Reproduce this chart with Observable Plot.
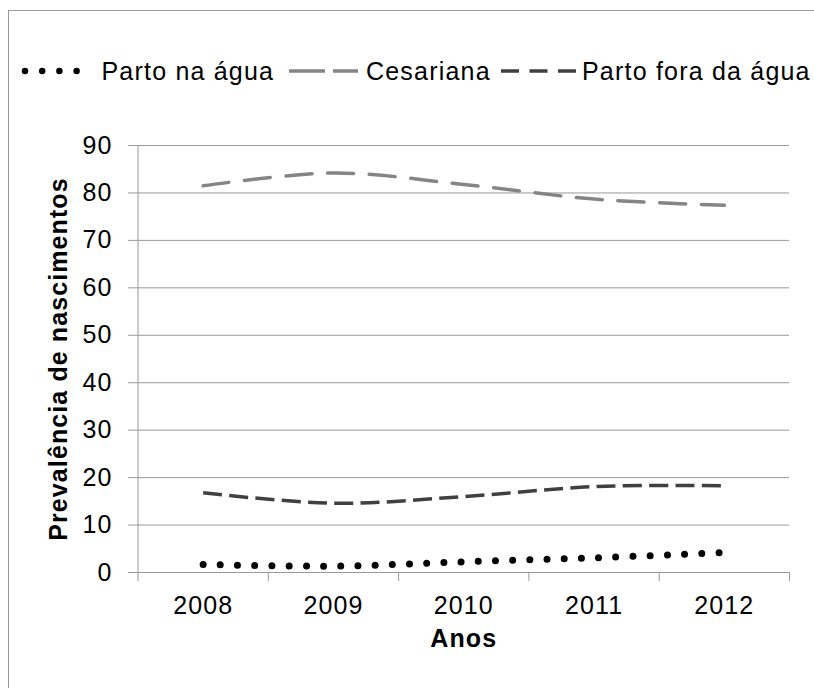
<!DOCTYPE html>
<html>
<head>
<meta charset="utf-8">
<script src="https://cdn.jsdelivr.net/npm/d3@7"></script>
<script src="https://cdn.jsdelivr.net/npm/@observablehq/plot@0.6"></script>
<style>
  html, body { margin: 0; padding: 0; background: #fff; width: 814px; height: 688px; overflow: hidden; }
  #wrap { position: relative; width: 814px; height: 688px; }
  #frame { position: absolute; left: 8px; top: 10px; width: 900px; height: 800px;
           border-left: 1.5px solid #999; border-top: 1.5px solid #999; box-sizing: border-box; }
  #legend { position: absolute; left: 0; top: 0; }
  #chart { position: absolute; left: 0; top: 100px; }
</style>
</head>
<body>
<div id="wrap">
  <div id="frame"></div>
  <div id="legend"></div>
  <div id="chart"></div>
</div>
<script>
// ---- data ----
const years = [2008, 2009, 2010, 2011, 2012];
const partoNaAgua = [1.7, 1.35, 2.25, 3.1, 4.2];
const cesariana = [81.5, 84.2, 81.8, 78.7, 77.4];
const partoForaDaAgua = [16.8, 14.6, 16.0, 18.1, 18.3];
const seriesNames = ["Parto na água", "Cesariana", "Parto fora da água"];
const yTicks = [0, 10, 20, 30, 40, 50, 60, 70, 80, 90];
const xTitle = "Anos";
const yTitle = "Prevalência de nascimentos";

// ---- styles ----
const FONT = "'Liberation Sans', Arial, Helvetica, sans-serif";
const seriesStyle = [
  {stroke: "#000000", strokeWidth: 7, strokeDasharray: "0 17.2", strokeLinecap: "round",
   legendDash: "0 17.2", legendCap: "round", legendWidth: 6.5},
  {stroke: "#858585", strokeWidth: 3.5, strokeDasharray: "26 15.7", strokeLinecap: "round",
   legendDash: "36 8", legendCap: "butt", legendWidth: 3.5},
  {stroke: "#404040", strokeWidth: 3.5, strokeDasharray: "19 7.3", strokeLinecap: "butt",
   legendDash: "18 10.5", legendCap: "butt", legendWidth: 3.5}
];
const seriesValues = [partoNaAgua, cesariana, partoForaDaAgua];

const table = seriesNames.map((name, i) =>
  years.map((year, j) => ({series: name, year, value: seriesValues[i][j]})));

// band boundaries for category tick marks
const bounds = [years[0] - 0.5, ...years.map(y => y + 0.5)];

const lineMarks = table.map((rows, i) => Plot.line(rows, {
  x: "year", y: "value", curve: "catmull-rom",
  stroke: seriesStyle[i].stroke, strokeWidth: seriesStyle[i].strokeWidth,
  strokeDasharray: seriesStyle[i].strokeDasharray, strokeLinecap: seriesStyle[i].strokeLinecap
}));

const chart = Plot.plot({
  width: 814, height: 588,
  marginTop: 45, marginBottom: 116, marginLeft: 137.5, marginRight: 25,
  x: {type: "linear", domain: [bounds[0], bounds[bounds.length - 1]]},
  y: {domain: [0, 90]},
  style: {fontFamily: FONT, fontSize: "25px", letterSpacing: "1.1px", color: "#000", background: "transparent", overflow: "visible"},
  marks: [
    Plot.gridY(yTicks, {stroke: "#999", strokeOpacity: 1, strokeWidth: 1}),
    Plot.axisY(yTicks, {tickSize: 9.5, tickPadding: 16, stroke: "#999", label: null, fontSize: 25, tickFormat: d => String(d)}),
    Plot.axisX(years, {tickSize: 0, tickPadding: 24, label: null, fontSize: 25, tickFormat: d => String(d)}),
    Plot.axisX(bounds, {tickSize: 9, tickPadding: 0, stroke: "#999", label: null, tickFormat: () => ""}),
    Plot.ruleX([bounds[0]], {stroke: "#999", strokeWidth: 1}),
    Plot.ruleY([0], {stroke: "#999", strokeWidth: 1}),
    ...lineMarks,
    Plot.text([yTitle], {frameAnchor: "left", textAnchor: "middle", rotate: -90, dx: -79.5, fontWeight: "bold", fontSize: 25, letterSpacing: 1.5}),
    Plot.text([xTitle], {frameAnchor: "bottom", dy: 74, fontWeight: "bold", fontSize: 25})
  ]
});
document.getElementById("chart").appendChild(chart);

// ---- legend (above the plot svg) ----
const legendItems = [
  {swatch: [25, 77], textX: 101.5},
  {swatch: [289, 358], textX: 366},
  {swatch: [501, 576], textX: 582}
];
const ns = "http://www.w3.org/2000/svg";
const lsvg = document.createElementNS(ns, "svg");
lsvg.setAttribute("width", 814);
lsvg.setAttribute("height", 100);
lsvg.style.overflow = "visible";
seriesNames.forEach((name, i) => {
  const it = legendItems[i], st = seriesStyle[i];
  const ln = document.createElementNS(ns, "line");
  ln.setAttribute("x1", it.swatch[0]); ln.setAttribute("x2", it.swatch[1]);
  ln.setAttribute("y1", 71); ln.setAttribute("y2", 71);
  ln.setAttribute("stroke", st.stroke);
  ln.setAttribute("stroke-width", st.legendWidth);
  ln.setAttribute("stroke-dasharray", st.legendDash);
  ln.setAttribute("stroke-linecap", st.legendCap);
  lsvg.appendChild(ln);
  const tx = document.createElementNS(ns, "text");
  tx.setAttribute("x", it.textX); tx.setAttribute("y", 80);
  tx.setAttribute("font-family", FONT);
  tx.setAttribute("font-size", 25);
  tx.setAttribute("letter-spacing", "1.2px");
  tx.setAttribute("fill", "#000");
  tx.textContent = name;
  lsvg.appendChild(tx);
});
document.getElementById("legend").appendChild(lsvg);
</script>
</body>
</html>
